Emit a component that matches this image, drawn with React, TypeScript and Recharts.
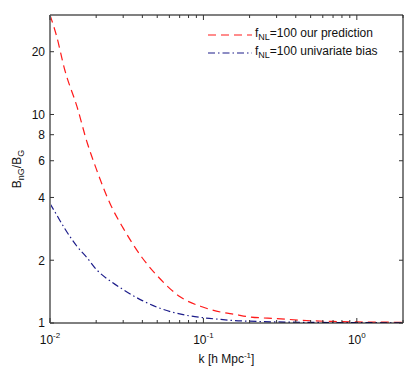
import {
  LineChart,
  Line,
  XAxis,
  YAxis,
  Legend
} from 'recharts'

// wavenumber k [h/Mpc]
const K = [0.01, 0.011, 0.0125, 0.015, 0.0175, 0.02, 0.025, 0.03, 0.04, 0.05, 0.07, 0.1, 0.13, 0.16, 0.2, 0.3, 0.5, 0.7, 1, 1.5, 2]
// B_nG / B_G, fNL = 100
const PREDICTION = [30, 24, 16.3, 10.9, 7.3, 5.5, 3.65, 2.85, 2.05, 1.685, 1.34, 1.19, 1.128, 1.1, 1.07, 1.05, 1.025, 1.017, 1.012, 1.009, 1.008]
const UNIVARIATE = [3.74, 3.32, 2.83, 2.33, 2.05, 1.81, 1.58, 1.446, 1.28, 1.19, 1.105, 1.06, 1.04, 1.027, 1.02, 1.012, 1.007, 1.005, 1.004, 1.003, 1.003]

const X_TICKS = [0.01, 0.02, 0.03, 0.04, 0.05, 0.06, 0.07, 0.08, 0.09, 0.1, 0.2, 0.3, 0.4, 0.5, 0.6, 0.7, 0.8, 0.9, 1, 2]
const Y_TICKS = [1, 2, 4, 6, 8, 10, 20]

const SERIES = [
  { key: 'prediction', label: '=100 our prediction', color: '#ff1a1a', dash: '8 5' },
  { key: 'univariate', label: '=100 univariate bias', color: '#1c1c8a', dash: '7 3 1.5 3' },
]

const FONT = '"Liberation Sans", Arial, Helvetica, sans-serif'

const data = K.map((k, i) => ({ k, prediction: PREDICTION[i], univariate: UNIVARIATE[i] }))

const isMajor = (v: number) => Math.abs(Math.log10(v) - Math.round(Math.log10(v))) < 1e-6

const BottomTick = ({ x, y, payload }: any) => {
  const major = isMajor(payload.value)
  return (
    <g>
      <line x1={x} x2={x} y1={y} y2={y - (major ? 5 : 3)} stroke="#333" strokeWidth={1} />
      {major && (
        <text x={x} y={y + 21} textAnchor="middle" fontFamily={FONT} fontSize={12} fill="#111">
          10
          <tspan fontSize={8} dy={-6}>{Math.round(Math.log10(payload.value))}</tspan>
        </text>
      )}
    </g>
  )
}

const TopTick = ({ x, y, payload }: any) => (
  <line x1={x} x2={x} y1={y} y2={y + (isMajor(payload.value) ? 5 : 3)} stroke="#333" strokeWidth={1} />
)

const LeftTick = ({ x, y, payload }: any) => (
  <g>
    <line x1={x} x2={x + 4} y1={y} y2={y} stroke="#333" strokeWidth={1} />
    <text x={x - 5} y={y} dy="0.36em" textAnchor="end" fontFamily={FONT} fontSize={12} fill="#111">
      {payload.value}
    </text>
  </g>
)

const RightTick = ({ x, y }: any) => (
  <line x1={x} x2={x - 4} y1={y} y2={y} stroke="#333" strokeWidth={1} />
)

const LegendBox = ({ payload }: any) => (
  <svg width={200} height={46}>
    {(payload || []).map((entry: any, idx: number) => {
      const s = SERIES.find(d => d.key === entry.dataKey) || SERIES[idx]
      const cy = 15 + idx * 18
      return (
        <g key={s.key}>
          <line x1={3} x2={47} y1={cy} y2={cy} stroke={s.color} strokeWidth={1.2} strokeDasharray={s.dash} />
          <text x={50} y={cy + 2} fontFamily={FONT} fontSize={12} fill="#111">
            f<tspan fontSize={9} dy={3}>NL</tspan>
            <tspan dy={-3}>{s.label}</tspan>
          </text>
        </g>
      )
    })}
  </svg>
)

const YLabel = ({ viewBox }: any) => {
  const cx = 17
  const cy = viewBox.y + viewBox.height / 2
  return (
    <text x={cx} y={cy} transform={`rotate(-90 ${cx} ${cy})`} textAnchor="middle" dy="0.36em" fontFamily={FONT} fontSize={12} fill="#111">
      B<tspan fontSize={9} dy={3}>nG</tspan>
      <tspan dy={-3}>/B</tspan>
      <tspan fontSize={9} dy={3}>G</tspan>
    </text>
  )
}

const XLabel = ({ viewBox }: any) => (
  <text x={viewBox.x + viewBox.width / 2} y={viewBox.y + 40} textAnchor="middle" fontFamily={FONT} fontSize={12} fill="#111">
    k [h Mpc<tspan fontSize={8} dy={-5}>-1</tspan>
    <tspan dy={5}>]</tspan>
  </text>
)

export default function App() {
  return (
    <div style={{ position: 'absolute', left: 0, top: 0, width: 413, height: 366, background: '#fff' }}>
      <LineChart width={413} height={366} data={data} margin={{ top: 14, right: 0, bottom: 0, left: 0 }}>
        <XAxis
          dataKey="k"
          type="number"
          scale="log"
          domain={[0.01, 2]}
          allowDataOverflow
          ticks={X_TICKS}
          interval={0}
          height={43}
          tickSize={0}
          tickMargin={0}
          tickLine={false}
          tick={<BottomTick />}
          axisLine={{ stroke: '#000', strokeWidth: 1 }}
          label={<XLabel />}
        />
        <XAxis
          xAxisId="top"
          orientation="top"
          dataKey="k"
          type="number"
          scale="log"
          domain={[0.01, 2]}
          allowDataOverflow
          ticks={X_TICKS}
          interval={0}
          height={1}
          tickSize={0}
          tickMargin={0}
          tickLine={false}
          tick={<TopTick />}
          axisLine={{ stroke: '#808080', strokeWidth: 2 }}
        />
        <YAxis
          type="number"
          scale="log"
          domain={[1, 30]}
          allowDataOverflow
          ticks={Y_TICKS}
          interval={0}
          width={50}
          tickSize={0}
          tickMargin={0}
          tickLine={false}
          tick={<LeftTick />}
          axisLine={{ stroke: '#808080', strokeWidth: 2 }}
          label={<YLabel />}
        />
        <YAxis
          yAxisId="right"
          orientation="right"
          type="number"
          scale="log"
          domain={[1, 30]}
          allowDataOverflow
          ticks={Y_TICKS}
          interval={0}
          width={10}
          tickSize={0}
          tickMargin={0}
          tickLine={false}
          tick={<RightTick />}
          axisLine={{ stroke: '#000', strokeWidth: 1 }}
        />
        <Legend
          layout="horizontal"
          verticalAlign="middle"
          align="center"
          content={<LegendBox />}
          wrapperStyle={{ left: 205, top: 20, width: 200, height: 46 }}
        />
        {SERIES.map(s => (
          <Line
            key={s.key}
            type="monotone"
            dataKey={s.key}
            name={`fNL${s.label}`}
            stroke={s.color}
            strokeWidth={1.2}
            strokeDasharray={s.dash}
            dot={false}
            activeDot={false}
            isAnimationActive={false}
          />
        ))}
      </LineChart>
    </div>
  )
}
